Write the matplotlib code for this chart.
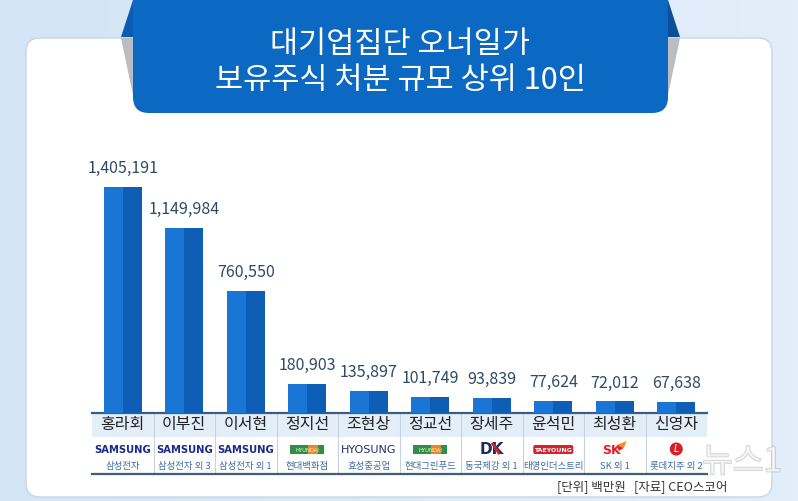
import matplotlib
matplotlib.use('Agg')
import matplotlib.pyplot as plt
from matplotlib.patches import FancyBboxPatch, Polygon, Rectangle, Circle
import matplotlib.patheffects as pe
import numpy as np

plt.rcParams['font.family'] = ['Noto Sans CJK KR', 'DejaVu Sans']

# ---- data ----
names = ['홍라회', '이부진', '이서현', '정지선', '조현상', '정교선', '장세주', '윤석민', '최성환', '신영자']
values = [1405191, 1149984, 760550, 180903, 135897, 101749, 93839, 77624, 72012, 67638]
companies = ['삼성전자', '삼성전자 외 3', '삼성전자 외 1', '현대백화점', '효성중공업',
             '현대그린푸드', '동국제강 외 1', '태영인더스트리', 'SK 외 1', '롯데지주 외 2']
logos = ['samsung', 'samsung', 'samsung', 'hyundai', 'hyosung',
         'hyundai', 'dk', 'taeyoung', 'sk', 'lotte']

W, H = 798, 501
fig = plt.figure(figsize=(W / 100, H / 100), dpi=100)

# background axes in pixel coords
ax = fig.add_axes([0, 0, 1, 1])
ax.set_xlim(0, W)
ax.set_ylim(H, 0)
ax.axis('off')

# light blue background
grad = np.linspace(0, 1, 256).reshape(1, -1)
ax.imshow(grad, extent=[0, W, H, 0], aspect='auto', zorder=0,
          cmap=matplotlib.colors.LinearSegmentedColormap.from_list('bg', ['#d3e5f6', '#e2eefa']))

# white panel
panel = FancyBboxPatch((26, 38), 746, 459, boxstyle='round,pad=0,rounding_size=14',
                       facecolor='white', edgecolor='#c9d6e3', linewidth=1, zorder=1)
ax.add_patch(panel)

# banner shadows
ax.add_patch(Polygon([(121, 38), (133, 38), (133, 95)], closed=True,
                     facecolor='#b9bcc0', edgecolor='none', zorder=2))
ax.add_patch(Polygon([(680, 38), (668, 38), (668, 95)], closed=True,
                     facecolor='#b9bcc0', edgecolor='none', zorder=2))
# banner ears
ax.add_patch(Polygon([(133, 0), (121, 37), (133, 37)], closed=True,
                     facecolor='#0a5cb0', edgecolor='none', zorder=3))
ax.add_patch(Polygon([(668, 0), (680, 37), (668, 37)], closed=True,
                     facecolor='#0a4f98', edgecolor='none', zorder=3))
# banner body
banner = FancyBboxPatch((133, -30), 535, 143, boxstyle='round,pad=0,rounding_size=16',
                        facecolor='#0b68c3', edgecolor='none', zorder=3)
ax.add_patch(banner)

ax.text(400, 44, '대기업집단 오너일가', ha='center', va='center', color='white',
        fontsize=22, fontweight='medium', zorder=4)
ax.text(400, 80, '보유주식 처분 규모 상위 10인', ha='center', va='center', color='white',
        fontsize=22, fontweight='medium', zorder=4)

# ---- bar chart ----
left_px, right_px = 92, 707
base_px, top_px = 413, 100
bar_ax = fig.add_axes([left_px / W, (H - base_px) / H, (right_px - left_px) / W,
                       (base_px - top_px) / H])
bar_ax.set_xlim(-0.5, len(values) - 0.5)
ymax = max(values) * (base_px - top_px) / 226
bar_ax.set_ylim(0, ymax)
bar_ax.axis('off')
bar_ax.patch.set_alpha(0)

x = np.arange(len(values))
bw = 38 / 61.5
bar_ax.bar(x - bw / 4, values, width=bw / 2, color='#1a76d4', linewidth=0)
bar_ax.bar(x + bw / 4, values, width=bw / 2, color='#0e5eb5', linewidth=0)
for xi, v in zip(x, values):
    bar_ax.annotate(f'{v:,}', (xi, v), xytext=(0, 7), textcoords='offset points',
                    ha='center', va='bottom', fontsize=11.5, color='#2e4a66',
                    family=['Noto Sans CJK KR'], fontweight='light')

# ---- table under bars ----
col_w = (right_px - left_px) / len(values)
ax.add_patch(Rectangle((left_px, 413), right_px - left_px, 24, facecolor='#e4eef9',
                       edgecolor='none', zorder=2))
for i in range(1, len(values)):
    xs = left_px + i * col_w
    ax.plot([xs, xs], [413, 474], color='#c5d2df', lw=0.8, zorder=3)
ax.plot([left_px, right_px], [413, 413], color='#3e5c7c', lw=1.6, zorder=4)
ax.plot([left_px, right_px], [474, 474], color='#3e5c7c', lw=1.6, zorder=4)


def draw_logo(cx, kind):
    y = 450
    if kind == 'samsung':
        ax.text(cx, y, 'SAMSUNG', ha='center', va='center', fontsize=7.2,
                fontweight='bold', color='#1c2a8c', family=['DejaVu Sans'], zorder=5)
    elif kind == 'hyundai':
        ax.add_patch(Rectangle((cx - 17, y - 5), 34, 9, facecolor='#2f8f4a',
                               edgecolor='none', zorder=5))
        ax.add_patch(Rectangle((cx + 1, y - 5), 10, 9, facecolor='#e58a2a',
                               edgecolor='none', zorder=5))
        ax.text(cx, y, 'HYUNDAI', ha='center', va='center', fontsize=3.8,
                color='#fff7c0', family=['DejaVu Sans'], zorder=6)
    elif kind == 'hyosung':
        ax.text(cx, y, 'HYOSUNG', ha='center', va='center', fontsize=8,
                color='#1d2f6f', family=['DejaVu Sans'], zorder=5)
    elif kind == 'dk':
        ax.text(cx, y - 1, 'DK', ha='center', va='center', fontsize=11,
                fontweight='bold', color='#1d2a5a', family=['DejaVu Sans'], zorder=5)
        ax.plot([cx + 1, cx + 7], [y - 6, y + 3], color='#d8232a', lw=2, zorder=6)
    elif kind == 'taeyoung':
        ax.add_patch(FancyBboxPatch((cx - 20, y - 5), 40, 9,
                                    boxstyle='round,pad=0,rounding_size=2',
                                    facecolor='#d2232f', edgecolor='none', zorder=5))
        ax.text(cx, y, 'TAEYOUNG', ha='center', va='center', fontsize=4.5,
                fontweight='bold', color='white', family=['DejaVu Sans'], zorder=6)
    elif kind == 'sk':
        ax.text(cx - 3, y + 1, 'SK', ha='center', va='center', fontsize=9,
                fontweight='bold', color='#e0202a', family=['DejaVu Sans'], zorder=5)
        ax.add_patch(Polygon([(cx + 2, y - 5), (cx + 12, y - 9), (cx + 9, y - 2)],
                             closed=True, facecolor='#f39020', edgecolor='none', zorder=5))
        ax.add_patch(Polygon([(cx + 2, y - 5), (cx + 9, y - 2), (cx + 4, y + 1)],
                             closed=True, facecolor='#e0202a', edgecolor='none', zorder=5))
    elif kind == 'lotte':
        ax.add_patch(Circle((cx, y - 1), 6.5, facecolor='#d91f26', edgecolor='none', zorder=5))
        ax.text(cx, y - 1, 'L', ha='center', va='center', fontsize=7, style='italic',
                color='white', family=['DejaVu Sans'], zorder=6)


for i, (nm, comp, lg) in enumerate(zip(names, companies, logos)):
    cx = left_px + (i + 0.5) * col_w
    ax.text(cx, 425, nm, ha='center', va='center', fontsize=11.5, color='#222222', zorder=5)
    draw_logo(cx, lg)
    ax.text(cx, 466, comp, ha='center', va='center', fontsize=6.8, color='#3a6ea8', zorder=5)

ax.text(727, 487, '[단위] 백만원   [자료] CEO스코어', ha='right', va='center',
        fontsize=9, color='#333333', zorder=5)

# watermark
ax.text(742, 462, '뉴스1', ha='center', va='center', fontsize=24, style='italic',
        color='white', alpha=0.55, zorder=7,
        path_effects=[pe.withStroke(linewidth=1.4, foreground='#b8b8b8')])

fig.savefig('out.png', dpi=100, facecolor='white')
